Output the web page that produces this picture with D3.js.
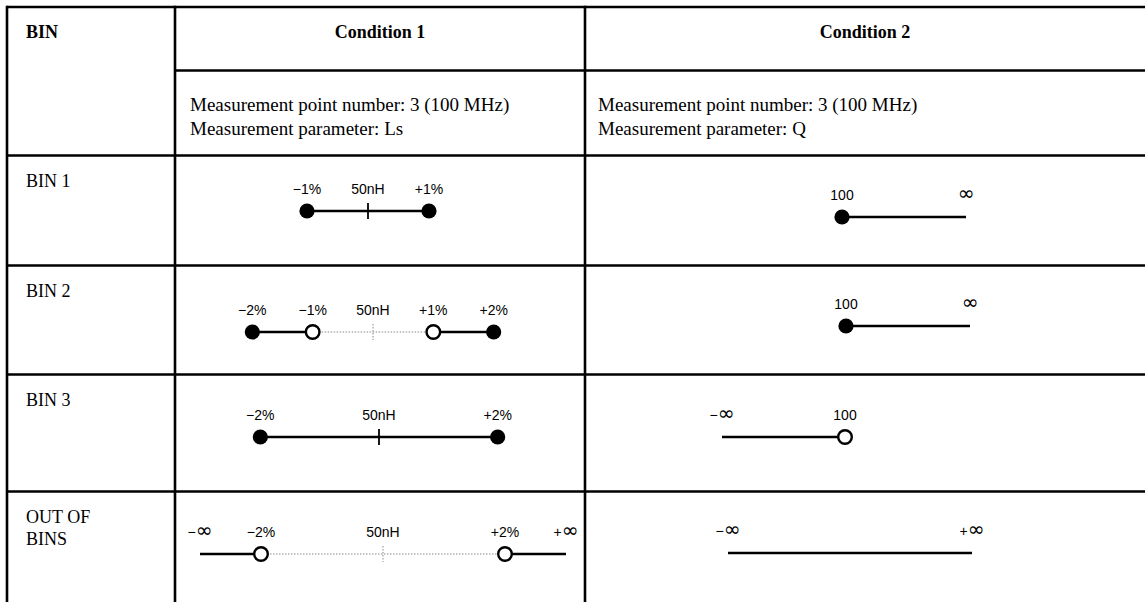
<!DOCTYPE html>
<html>
<head>
<meta charset="utf-8">
<script src="https://cdn.jsdelivr.net/npm/d3@7/dist/d3.min.js"></script>
<style>
  html, body { margin: 0; padding: 0; background: #fff; }
  svg { display: block; }
</style>
</head>
<body>
<svg id="chart" width="1145" height="602"></svg>
<script>
// ---------------- DATA ----------------
const headerLabels = ["BIN", "Condition 1", "Condition 2"];
const binLabels = [["BIN 1"], ["BIN 2"], ["BIN 3"], ["OUT OF", "BINS"]];
const cond1Setup = ["Measurement point number: 3 (100 MHz)", "Measurement parameter: Ls"];
const cond2Setup = ["Measurement point number: 3 (100 MHz)", "Measurement parameter: Q"];

// Condition 1: Ls deviation from nominal 50 nH, in percent
const nominalLabel = "50nH";
const cond1Marks = [
  [-1, 0, 1],
  [-2, -1, 0, 1, 2],
  [-2, 0, 2],
  [-Infinity, -2, 0, 2, Infinity]
];
// accepted ranges [lower, upper]
const cond1Ranges = [
  [[-1, 1]],
  [[-2, -1], [1, 2]],
  [[-2, 2]],
  [[-Infinity, -2], [2, Infinity]]
];
// limits shown as open circles (not included)
const cond1OpenLimits = [[], [-1, 1], [], [-2, 2]];
// excluded gaps drawn dotted
const cond1Gaps = [[], [[-1, 1]], [], [[-2, 2]]];

// Condition 2: Q limits
const cond2Marks = [
  [100, Infinity],
  [100, Infinity],
  [-Infinity, 100],
  [-Infinity, Infinity]
];
const cond2MarkLabels = [
  ["100", "∞"],
  ["100", "∞"],
  ["−∞", "100"],
  ["−∞", "+∞"]
];
const cond2Ranges = [
  [[100, Infinity]],
  [[100, Infinity]],
  [[-Infinity, 100]],
  [[-Infinity, Infinity]]
];
const cond2OpenLimits = [[], [], [100], []];

// ---------------- LAYOUT ----------------
const W = 1145, H = 602;
const colX = [7, 175, 585, 1145];
const rowY = [7, 70.5, 155.5, 265.5, 374.5, 491.5];
const serif = "'Liberation Serif', 'Times New Roman', serif";
const sans = "'Liberation Sans', Arial, sans-serif";

const c1Center = [368, 373, 379, 383];
const c1Half = [183, 181, 178, 183];
const c1LineY = [211, 332, 437, 554];
const c2Range = [[718, 966], [722, 970], [722, 968], [728, 972]];
const c2LineY = [217, 326, 437, 553];

const svg = d3.select("#chart");

// ---------------- TABLE GRID ----------------
const grid = svg.append("g").attr("stroke", "#000").attr("stroke-width", 2.6);
grid.append("line").attr("x1", colX[0]).attr("x2", W).attr("y1", rowY[0]).attr("y2", rowY[0]);
grid.append("line").attr("x1", colX[1]).attr("x2", W).attr("y1", rowY[1]).attr("y2", rowY[1]);
rowY.slice(2).forEach(y => grid.append("line").attr("x1", colX[0]).attr("x2", W).attr("y1", y).attr("y2", y));
colX.slice(0, 3).forEach(x => grid.append("line").attr("x1", x).attr("x2", x).attr("y1", rowY[0] - 1.3).attr("y2", H));

// ---------------- HEADER TEXT ----------------
svg.append("text").attr("x", 26).attr("y", 38)
  .attr("font-family", serif).attr("font-weight", "bold").attr("font-size", 18).text(headerLabels[0]);
[1, 2].forEach(i => {
  svg.append("text").attr("x", (colX[i] + colX[i + 1]) / 2).attr("y", 38)
    .attr("text-anchor", "middle")
    .attr("font-family", serif).attr("font-weight", "bold").attr("font-size", 18).text(headerLabels[i]);
});
[[cond1Setup, 190], [cond2Setup, 598]].forEach(([lines, x]) => {
  lines.forEach((t, j) => {
    svg.append("text").attr("x", x).attr("y", 111 + j * 24)
      .attr("font-family", serif).attr("font-size", 19).text(t);
  });
});

// row labels
binLabels.forEach((lines, i) => {
  lines.forEach((t, j) => {
    svg.append("text").attr("x", 26).attr("y", rowY[i + 2] + 31 + j * 22)
      .attr("font-family", serif).attr("font-size", 18).text(t);
  });
});

// ---------------- DIAGRAMS ----------------
const fmt1 = v => v === 0 ? nominalLabel
  : v === -Infinity ? "−∞" : v === Infinity ? "+∞"
  : (v > 0 ? "+" : "−") + Math.abs(v) + "%";

function writeLabel(sel, label) {
  // infinity sign drawn larger, as in the reference
  const parts = label.split(/(∞)/).filter(s => s.length);
  parts.forEach(p => {
    const t = sel.append("tspan").text(p);
    if (p === "∞") t.attr("font-family", "'DejaVu Sans', sans-serif").attr("font-size", 20);
  });
}

function drawDiagram(g, x, y, ranges, gaps, marks, labels, openLimits, tickMark) {
  gaps.forEach(([a, b]) => {
    g.append("line").attr("x1", x(a)).attr("x2", x(b)).attr("y1", y).attr("y2", y)
      .attr("stroke", "#888").attr("stroke-width", 1).attr("stroke-dasharray", "1.5,1.5");
  });
  if (tickMark) {
    const dotted = gaps.length > 0;
    g.append("line").attr("x1", x(0)).attr("x2", x(0)).attr("y1", y - 8).attr("y2", y + 8)
      .attr("stroke", dotted ? "#888" : "#000")
      .attr("stroke-width", dotted ? 1 : 1.8)
      .attr("stroke-dasharray", dotted ? "1.5,1.5" : null);
  }
  ranges.forEach(([a, b]) => {
    g.append("line").attr("x1", x(a)).attr("x2", x(b)).attr("y1", y).attr("y2", y)
      .attr("stroke", "#000").attr("stroke-width", 2.6);
  });
  const finite = marks.filter(v => isFinite(v) && !(tickMark && v === 0));
  g.selectAll("circle").data(finite).join("circle")
    .attr("cx", d => x(d)).attr("cy", y).attr("r", d => openLimits.includes(d) ? 6.8 : 7.6)
    .attr("fill", d => openLimits.includes(d) ? "#fff" : "#000")
    .attr("stroke", "#000").attr("stroke-width", d => openLimits.includes(d) ? 2.4 : 0);
  g.selectAll("text").data(marks).join("text")
    .attr("x", d => x(d)).attr("y", y - 17)
    .attr("text-anchor", "middle")
    .attr("font-family", sans).attr("font-size", 14)
    .each(function (d, i) { writeLabel(d3.select(this), labels[i]); });
}

cond1Marks.forEach((marks, i) => {
  const x = d3.scaleLinear().domain([-3, 3])
    .range([c1Center[i] - c1Half[i], c1Center[i] + c1Half[i]]).clamp(true);
  drawDiagram(svg.append("g"), x, c1LineY[i], cond1Ranges[i], cond1Gaps[i],
    marks, marks.map(fmt1), cond1OpenLimits[i], true);
});

cond2Marks.forEach((marks, i) => {
  const x = d3.scalePoint().domain([-Infinity, 100, Infinity]).range(c2Range[i]);
  drawDiagram(svg.append("g"), x, c2LineY[i], cond2Ranges[i], [],
    marks, cond2MarkLabels[i], cond2OpenLimits[i], false);
});
</script>
</body>
</html>
